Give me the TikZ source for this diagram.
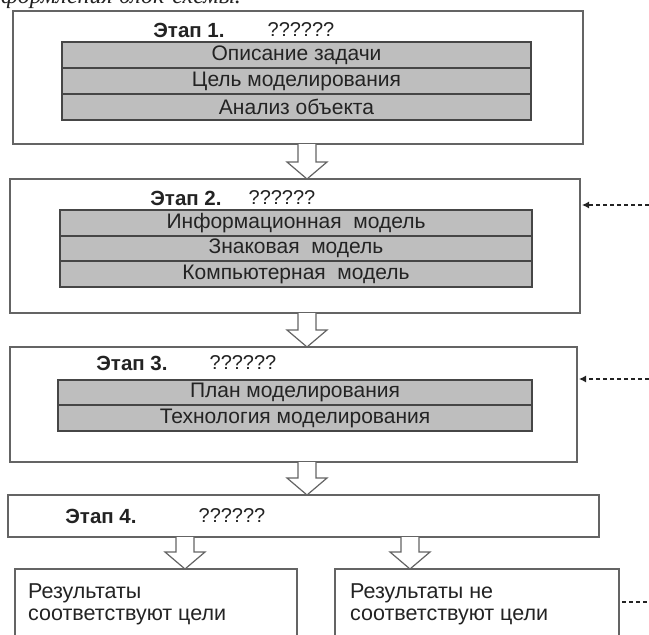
\documentclass[tikz,border=0pt]{standalone}
\usepackage{fontspec}
\setmainfont{Liberation Sans}
\newfontfamily\serifit{Liberation Serif}
\usetikzlibrary{calc,arrows.meta}
\definecolor{bandgray}{RGB}{190,190,190}
\definecolor{linegray}{RGB}{100,100,100}
\definecolor{txt}{RGB}{35,35,35}
\newcommand\blkarr[2]{\draw[blk] let \p1=(#1), \p2=(#2) in (\x1-9pt,\y1) -- (\x1-9pt,\y2+17pt) -- (\x1-20pt,\y2+17pt) -- (\x1,\y2) -- (\x1+20pt,\y2+17pt) -- (\x1+9pt,\y2+17pt) -- (\x1+9pt,\y1);}
\begin{document}
\begin{tikzpicture}[x=1pt,y=-1pt,
 stagebox/.style={draw=linegray,line width=1.4pt,fill=white,rectangle,anchor=north west,inner sep=0pt,outer sep=0pt},
 band/.style={draw=linegray!70!black,line width=1.2pt,fill=bandgray,rectangle,anchor=north west,inner sep=0pt,outer sep=0pt,font=\fontsize{21}{23}\selectfont,text=txt},
 ttl/.style={font=\bfseries\fontsize{20.5}{22}\selectfont,text=txt,inner sep=0pt},
 qq/.style={font=\fontsize{20}{22}\selectfont,text=txt,inner sep=0pt},
 bodytext/.style={font=\fontsize{21.5}{23}\selectfont,text=txt,inner sep=0pt,anchor=base west},
 blk/.style={draw=linegray,line width=1.2pt,fill=white,line join=miter},
 fb/.style={draw=txt,line width=1.2pt,dash pattern=on 4pt off 3pt},
]
\useasboundingbox[fill=white] (0,0) rectangle (649,635);

% header (cut off at top, as in the reference)
\node[anchor=base west,font=\serifit\itshape\fontsize{24}{24}\selectfont,text=txt,inner sep=0pt] (hdr) at (-11,3) {оформления блок-схемы.};

% stage 1
\node[stagebox,minimum width=570pt,minimum height=133pt] (b1) at (13,11) {};
\node[ttl] (t1) at (189,30) {Этап 1.};
\node[qq] (q1) at (301,30) {??????};
\node[band,minimum width=469pt,minimum height=26pt] (r11) at (62,42) {Описание задачи};
\node[band,minimum width=469pt,minimum height=26pt] (r12) at (62,68) {Цель моделирования};
\node[band,minimum width=469pt,minimum height=26pt] (r13) at (62,94) {Анализ объекта};

% stage 2
\node[stagebox,minimum width=570pt,minimum height=134pt] (b2) at (10,179) {};
\node[ttl] (t2) at (186,198) {Этап 2.};
\node[qq] (q2) at (282,198) {??????};
\node[band,minimum width=472pt,minimum height=26pt] (r21) at (60,210) {Информационная \ модель};
\node[band,minimum width=472pt,minimum height=25pt] (r22) at (60,236) {Знаковая \ модель};
\node[band,minimum width=472pt,minimum height=26pt] (r23) at (60,261) {Компьютерная \ модель};

% stage 3
\node[stagebox,minimum width=567pt,minimum height=115pt] (b3) at (10,347) {};
\node[ttl] (t3) at (132,363) {Этап 3.};
\node[qq] (q3) at (243,363) {??????};
\node[band,minimum width=474pt,minimum height=25pt] (r31) at (58,380) {План моделирования};
\node[band,minimum width=474pt,minimum height=26pt] (r32) at (58,405) {Технология моделирования};

% stage 4
\node[stagebox,minimum width=591pt,minimum height=42pt] (b4) at (8,495) {};
\node[ttl] (t4) at (101,516) {Этап 4.};
\node[qq] (q4) at (232,516) {??????};

% results
\node[stagebox,minimum width=282pt,minimum height=90pt] (b5) at (15,569) {};
\node[stagebox,minimum width=284pt,minimum height=90pt] (b6) at (335,569) {};
\node[bodytext] (l51) at (28,598) {Результаты};
\node[bodytext] (l52) at (28,620) {соответствуют цели};
\node[bodytext] (l61) at (350,598) {Результаты не};
\node[bodytext] (l62) at (350,620) {соответствуют цели};

% block arrows
\coordinate (ax) at (307,0);
\coordinate (lx) at (185,0);
\coordinate (rx) at (410,0);
\blkarr{b1.south -| ax}{b2.north -| ax}
\blkarr{b2.south -| ax}{b3.north -| ax}
\blkarr{b3.south -| ax}{b4.north -| ax}
\blkarr{b4.south -| lx}{b5.north -| lx}
\blkarr{b4.south -| rx}{b6.north -| rx}

% feedback (dotted) arrows
\coordinate (e1) at (649,205);
\coordinate (e2) at (649,379);
\coordinate (e3) at (649,602);
\draw[fb,-{Latex[length=7pt,width=7pt]}] (e1) -- ([xshift=2pt]e1 -| b2.east);
\draw[fb,-{Latex[length=7pt,width=7pt]}] (e2) -- ([xshift=2pt]e2 -| b3.east);
\draw[fb] ([xshift=3pt]e3 -| b6.east) -- (e3);
\end{tikzpicture}
\end{document}
